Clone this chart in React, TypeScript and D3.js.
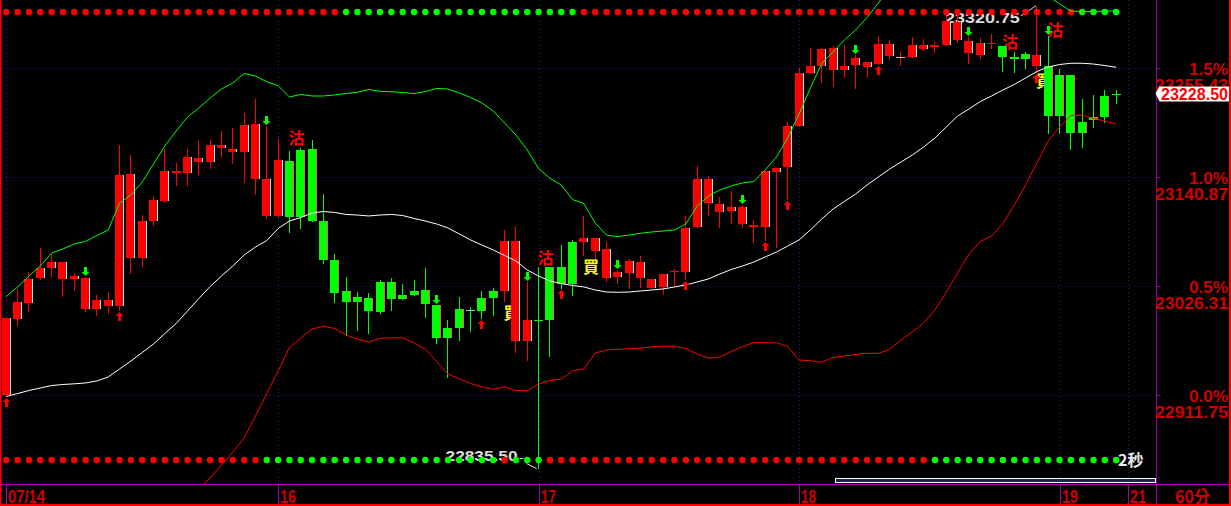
import React, { useEffect } from 'react';
import * as d3 from 'd3';

const W = 1231;
const H = 506;
const BASE = 22911.75;

const open = [22911.75,22991.75,23008.5,23034.75,23045.25,23051.5,23033.75,23034.75,23002.25,23011.5,
23005.25,23144,23055.75,23094.5,23115.75,23147.25,23145,23160.75,23156.75,23174.5,
23170.25,23167,23196.5,23138.75,23100,23157.75,23098.75,23170.25,23094.5,23053.75,
23021,23009.5,23013.75,22999,23030.5,23012.75,23016.75,23022,23006.25,22971.75,
22982.25,23001.5,23000,23013.75,23021,23073.5,22968.5,22990.5,22990.5,23046.25,
23028.5,23072.5,23076.75,23065.25,23035.75,23040,23051.5,23033.75,23025.25,23041,
23041,23088.25,23138.75,23112.5,23105.25,23109.25,23088.25,23088.25,23146,23151.5,
23194.5,23250.25,23257.5,23276.5,23253.25,23258.5,23261.75,23259.75,23280.75,23267.5,
23267,23279.5,23277.5,23279.5,23303.75,23283.75,23269,23280.75,23278.5,23267,
23265,23269,23257.5,23205,23248,23187,23200.75,23204,23228];

const high = [22992.75,23023.25,23041,23066.25,23060,23051.5,23040,23035.75,23016.75,23020,
23174.5,23164,23101,23121,23170.25,23155.5,23170.25,23179.75,23179.75,23189.25,
23192.25,23208,23222.75,23194.5,23180.75,23168.25,23171.25,23179.75,23123,23060,
23035.75,23020,23019,23032.5,23034.75,23028.5,23032.5,23045.25,23006.25,22990.5,
23014.75,23004.25,23021,23024.25,23085.25,23089.25,23030.5,23046.25,23046.25,23069.5,
23074.75,23100,23076.75,23072.5,23043.25,23054.75,23057.75,23033.75,23039,23044.25,
23100,23152.5,23142,23119.75,23126.25,23111.5,23095.75,23147.25,23150.25,23198.75,
23255.5,23276.5,23276.5,23278.5,23279.5,23269,23261.75,23289,23284.75,23272.25,
23288,23286,23282.75,23312.25,23311.25,23288,23287,23291.25,23278.5,23272.25,
23272.25,23320.75,23289,23254.5,23248,23222.75,23227,23232.25,23232.25];

const low = [22910.75,22985.25,23000,23033.75,23035.75,23015.75,23022,23000,22995.75,22998,
23001,23040,23047.25,23090.5,23114.5,23132.5,23132.5,23144,23150.25,23163,
23155.5,23135.5,23123,23097.75,23098.75,23083,23087.25,23094.5,23050.5,23009.5,
22974.75,22980,22977,22998,23001,23012.75,23016.75,22993.75,22966.5,22930.75,
22969.5,22979,22992.75,22995.75,23010.5,22957,22948.5,22835.5,22952.75,23024.25,
23016.75,23059,23055.75,23031.5,23029.5,23024.25,23025.25,23024.25,23018,23026.25,
23033.75,23088.25,23101,23088.25,23092.5,23088.25,23072.5,23074.75,23067.25,23117.75,
23194.5,23250.25,23240.75,23236.5,23246,23234.5,23246,23259.75,23265,23258.5,
23267,23274.25,23272.25,23279.5,23282.75,23260.75,23266,23276.5,23252.25,23251.25,
23255.5,23251.25,23187,23187,23170.25,23172.5,23193.5,23198.75,23218.75];

const close = [22992.75,23009.5,23033.75,23045.25,23051.5,23033.75,23036.75,23002.25,23011.5,23005.25,
23143,23055.75,23094.5,23116.75,23147.25,23145,23162,23156.75,23174.5,23171.25,
23167,23195.5,23138.75,23100,23158.75,23098.75,23169.25,23094.5,23053.75,23019,
23009.5,23014.75,23000,23030.5,23012.75,23016.75,23021,23007.5,22971.75,22982.25,
23002.25,23001.5,23013.75,23021,23073.5,22968.5,22990.5,22989.5,23046.25,23028.5,
23072.5,23076.75,23063,23034.75,23041,23052.5,23034.75,23024.25,23039,23042,
23087.25,23138.75,23113.5,23104,23109.25,23091.5,23090.5,23147.25,23150.25,23194.5,
23250.25,23257.5,23275.5,23253.25,23257.5,23266,23256.5,23280.75,23268,23267.5,
23279.5,23275.5,23279.5,23304.75,23284.75,23271.25,23281.75,23281.75,23267,23265,
23270.25,23257.5,23205,23248,23187,23198.75,23204,23226,23228.5];

const bbMid = [22910.2,22913.3,22916.5,22919.1,22921.7,22922.8,22923.5,22924.4,22926.5,22930.7,
22939.1,22947.5,22956.4,22965.4,22976.4,22986.9,23000.0,23013.2,23025.8,23036.8,
23047.3,23058.9,23067.3,23074.1,23086.7,23094.6,23098.3,23103.0,23104.6,23103.6,
23101.5,23100.9,23099.9,23100.9,23101.5,23100.4,23097.3,23094.6,23091.5,23087.3,
23081.0,23074.7,23069.4,23064.2,23058.4,23052.6,23043.1,23036.8,23031.6,23028.9,
23026.8,23025.3,23022.1,23020.0,23019.7,23020.0,23021.1,23022.1,23023.2,23025.3,
23027.4,23030.5,23033.7,23038.9,23043.6,23047.3,23051.5,23056.8,23062.0,23068.3,
23074.7,23085.2,23096.7,23107.2,23115.1,23123.0,23132.5,23140.9,23149.3,23156.6,
23164.0,23172.4,23181.9,23193.4,23205.0,23212.3,23220.2,23226.0,23232.3,23238.1,
23244.9,23251.7,23256.5,23259.1,23260.4,23260.4,23259.6,23258.0,23256.2];

const bbUpper = [23015.3,23025.3,23036.8,23047.3,23061.0,23065.2,23070.5,23073.1,23079.4,23085.2,
23113.5,23122.0,23135.6,23154.5,23173.5,23189.2,23203.9,23213.4,23223.9,23233.4,
23239.7,23249.6,23247.0,23241.0,23236.8,23225.0,23227.6,23226.0,23226.0,23227.1,
23228.6,23229.9,23232.8,23230.9,23230.5,23229.7,23228.6,23230.7,23233.9,23233.4,
23229.2,23224.4,23218.6,23210.2,23197.6,23185.0,23169.3,23149.8,23139.5,23132.5,
23117.2,23113.0,23092.5,23079.9,23078.1,23079.9,23081.7,23083.1,23084.1,23085.2,
23091.5,23110.4,23120.9,23127.2,23131.4,23134.6,23136.1,23148.2,23161.9,23181.9,
23207.1,23234.4,23260.2,23272.2,23284.9,23295.4,23308.5,23323.7,23339.0,23343.7,
23350.0,23357.4,23362.6,23366.8,23370.0,23364.7,23367.4,23373.1,23372.6,23364.7,
23357.4,23347.9,23331.1,23322.7,23315.3,23314.7,23314.8,23315.3,23315.3];

const bbLower = [22805.1,22801.4,22796.1,22790.9,22782.5,22780.4,22776.6,22775.6,22773.5,22776.2,
22764.6,22773.0,22777.2,22776.2,22779.3,22784.6,22796.1,22813.0,22824.5,22838.2,
22851.8,22866.6,22889.7,22913.3,22937.0,22961.7,22971.7,22981.1,22984.0,22981.6,
22974.8,22970.6,22967.5,22971.3,22971.7,22972.0,22966.4,22960.1,22946.7,22933.8,
22928.6,22923.8,22920.2,22917.7,22920.5,22916.5,22916.3,22923.3,22927.0,22928.6,
22937.0,22939.1,22955.9,22959.0,22959.8,22960.3,22961.1,22962.2,22963.2,22962.9,
22960.6,22954.8,22950.6,22951.7,22957.5,22962.7,22966.7,22966.7,22966.7,22962.7,
22948.5,22947.8,22946.1,22951.2,22952.7,22954.3,22955.6,22955.6,22959.6,22969.6,
22978.0,22987.4,23001.1,23020.0,23040.0,23059.9,23073.1,23078.9,23092.0,23111.4,
23132.5,23155.6,23178.7,23193.4,23205.5,23206.0,23202.4,23199.7,23196.6];

const sellSignals = [25, 47, 88, 92];
const sellLabelPrice = [23182.9, 23056.3, 23284.3, 23296.4];
const buySignals = [44, 51, 91];
const buyLabelPrice = [22999.5, 23047.3, 23242.8];
const upArrows = [0, 10, 42, 49, 60, 67, 69, 77, 91];
const downArrows = [7, 23, 38, 46, 54, 65, 75, 85, 92];
const topDotSwitches = [30, 51, 95];
const bottomDotSwitches = [23, 44, 45, 48, 82];
const dateIndex = [0, 24, 47, 70, 93, 99];
const dateLabels = ['07/14', '16', '17', '18', '19', '21'];
const dateLabelWidth = [37, 16, 15, 15, 16, 16];
const pctTicks = [0, 0.5, 1.0, 1.5];
const periodLabel = '60分';
const timerLabel = '2秒';

const RED = '#ff0000';
const GREEN = '#00ff00';
const AXIS_RED = '#d00000';
const PURPLE = '#a000a8';
const GRID = '#1a1ab0';
const NUMFONT = '"Liberation Sans", Arial, sans-serif';
const CJK = '"Noto Sans CJK TC", "Noto Sans CJK SC", sans-serif';

export default function App() {
  useEffect(() => {
    document.body.style.margin = '0';
    document.body.style.background = '#000';
  }, []);

  const n = close.length;
  const x = d3.scaleLinear().domain([0, 99]).range([6.3, 1127.5]);
  const y = d3.scaleLinear().domain([BASE, BASE * 1.015]).range([395, 68]);
  const fmt = d3.format('.2f');

  const state: boolean[] = [];
  let up = true;
  for (let i = 0; i < n; i++) {
    if (buySignals.includes(i)) up = true;
    if (sellSignals.includes(i)) up = false;
    state.push(up);
  }
  const dotUp = (sw: number[], i: number) => sw.filter((s) => s <= i).length % 2 === 0;

  const line = d3.line<number>().x((_, i) => x(i)).y((v) => y(v));

  const hiIdx = d3.maxIndex(high);
  const loIdx = d3.minIndex(low);
  const hx = x(hiIdx), hy = y(high[hiIdx]);
  const lx = x(loIdx), ly = y(low[loIdx]);
  const last = close[n - 1];
  const lastY = y(last);

  const PLOT_R = 1156.5;
  const PLOT_B = 484.5;

  const cx = (i: number) => Math.round(x(i) - 4.5) + 4.5;

  return (
    <svg width={W} height={H} style={{ position: 'absolute', left: 0, top: 0, display: 'block', background: '#000' }}>
      <defs>
        <clipPath id="plot">
          <rect x={2} y={0} width={PLOT_R - 2} height={PLOT_B} />
        </clipPath>
      </defs>
      <rect x={0} y={0} width={W} height={H} fill="#000" />

      {pctTicks.map((p) => (
        <line key={'h' + p} x1={2} x2={PLOT_R} y1={Math.round(y(BASE * (1 + p / 100))) + 0.5} y2={Math.round(y(BASE * (1 + p / 100))) + 0.5}
          stroke={GRID} strokeWidth={1} strokeDasharray="1 3" />
      ))}
      {dateIndex.map((d) => (
        <line key={'v' + d} x1={Math.round(x(d)) + 0.5} x2={Math.round(x(d)) + 0.5} y1={0} y2={PLOT_B}
          stroke={GRID} strokeWidth={1} strokeDasharray="1 3" />
      ))}

      <text x={hx - 17} y={hy + 17} textAnchor="end" fill="#dcdcdc" fontFamily={NUMFONT} fontWeight="bold" fontSize={15}
        textLength={75} lengthAdjust="spacingAndGlyphs">{fmt(high[hiIdx])}</text>
      <line x1={hx - 16} y1={hy + 10} x2={hx - 1} y2={hy} stroke="#dcdcdc" strokeWidth={1} />
      <text x={lx - 21} y={ly - 7} textAnchor="end" fill="#dcdcdc" fontFamily={NUMFONT} fontWeight="bold" fontSize={15}
        textLength={72} lengthAdjust="spacingAndGlyphs">{fmt(low[loIdx])}</text>
      <line x1={lx - 19} y1={ly - 9} x2={lx - 15} y2={ly - 9} stroke="#dcdcdc" strokeWidth={1} />
      <line x1={lx - 12} y1={ly - 4} x2={lx - 2} y2={ly + 1} stroke="#dcdcdc" strokeWidth={1} />

      {close.map((_, i) => (
        <circle key={'td' + i} cx={x(i)} cy={12} r={3.2} fill={dotUp(topDotSwitches, i) ? RED : GREEN} />
      ))}
      {close.map((_, i) => (
        <circle key={'bd' + i} cx={x(i)} cy={460} r={3.2} fill={dotUp(bottomDotSwitches, i) ? RED : GREEN} />
      ))}

      <g clipPath="url(#plot)">
        {sellSignals.map((s, k) => (
          <text key={'s' + s} x={x(s) - 1} y={y(sellLabelPrice[k])} dominantBaseline="central" fill={RED}
            fontFamily={CJK} fontWeight="bold" fontSize={16}>沽</text>
        ))}
        {buySignals.map((s, k) => (
          <text key={'b' + s} x={x(s) - 1} y={y(buyLabelPrice[k])} dominantBaseline="central" fill="#ffff00"
            fontFamily={CJK} fontWeight="bold" fontSize={16}>買</text>
        ))}

        <g shapeRendering="crispEdges">
          {close.map((c, i) => {
            const o = open[i];
            const x0 = Math.round(x(i) - 4.5);
            const col = state[i] ? RED : GREEN;
            const edge = state[i] ? '#8ff4f4' : '#ff5a5a';
            const yTop = Math.round(y(Math.max(o, c)));
            const yBot = Math.round(y(Math.min(o, c)));
            const hgt = Math.max(1, yBot - yTop);
            const doji = o === c;
            return (
              <g key={'c' + i}>
                <line x1={x0 + 4.5} x2={x0 + 4.5} y1={Math.round(y(high[i]))} y2={Math.round(y(low[i])) + 1} stroke={col} strokeWidth={1} />
                {doji ? (
                  <rect x={x0} y={yTop} width={9} height={1} fill="#6fe0e0" />
                ) : (
                  <>
                    <rect x={x0} y={yTop} width={9} height={hgt} fill={col} />
                    {hgt > 2 && <rect x={x0 + 8} y={yTop} width={1} height={hgt} fill={edge} />}
                  </>
                )}
              </g>
            );
          })}
        </g>

        <path d={line(bbLower) || ''} fill="none" stroke={RED} strokeWidth={1} />
        <path d={line(bbUpper) || ''} fill="none" stroke={GREEN} strokeWidth={1} />
        <path d={line(bbMid) || ''} fill="none" stroke="#ffffff" strokeWidth={1} />

        {upArrows.map((i) => {
          const c = cx(i);
          const t = Math.round(y(low[i])) + 2;
          return (
            <path key={'ua' + i} fill={RED}
              d={`M${c},${t} L${c + 4},${t + 4} L${c + 1.5},${t + 4} L${c + 1.5},${t + 9} L${c - 1.5},${t + 9} L${c - 1.5},${t + 4} L${c - 4},${t + 4} Z`} />
          );
        })}
        {downArrows.map((i) => {
          const c = cx(i);
          const b = Math.round(y(high[i])) - 1;
          return (
            <path key={'da' + i} fill={GREEN}
              d={`M${c},${b} L${c + 4},${b - 4} L${c + 1.5},${b - 4} L${c + 1.5},${b - 9} L${c - 1.5},${b - 9} L${c - 1.5},${b - 4} L${c - 4},${b - 4} Z`} />
          );
        })}
      </g>

      <text x={1118} y={466} fill="#ececec" fontFamily={CJK} fontWeight="bold" fontSize={16}>{timerLabel}</text>

      <rect x={835.5} y={478.5} width={320} height={4} fill="#14285a" stroke="#ffffff" strokeWidth={1} />

      <line x1={0} x2={W - 2} y1={484.5} y2={484.5} stroke={PURPLE} strokeWidth={1} />
      <line x1={PLOT_R} x2={PLOT_R} y1={0} y2={505} stroke={PURPLE} strokeWidth={1} />
      <rect x={0} y={0} width={1.5} height={H} fill={RED} />
      <rect x={1229} y={0} width={2} height={H} fill={RED} />
      <rect x={0} y={504} width={W} height={2} fill={RED} />

      {pctTicks.map((p) => {
        const v = BASE * (1 + p / 100);
        const ty = y(v);
        return (
          <g key={'ax' + p}>
            <line x1={PLOT_R} x2={PLOT_R + 4} y1={Math.round(ty) + 0.5} y2={Math.round(ty) + 0.5} stroke={PURPLE} />
            <text x={1228} y={ty + 6.5} textAnchor="end" fill={AXIS_RED} fontFamily={NUMFONT} fontWeight="bold" fontSize={16}
              textLength={39} lengthAdjust="spacingAndGlyphs">{p.toFixed(1) + '%'}</text>
            <text x={1228} y={ty + 23} textAnchor="end" fill={AXIS_RED} fontFamily={NUMFONT} fontWeight="bold" fontSize={16}
              textLength={73} lengthAdjust="spacingAndGlyphs">{fmt(v)}</text>
          </g>
        );
      })}

      <path d={`M${PLOT_R - 1},${lastY} L${PLOT_R + 3},${lastY - 7} L1229,${lastY - 7} L1229,${lastY + 8} L${PLOT_R + 3},${lastY + 8} Z`} fill="#ffffff" />
      <text x={1228} y={lastY + 6.5} textAnchor="end" fill={RED} fontFamily={NUMFONT} fontWeight="bold" fontSize={16}
        textLength={67} lengthAdjust="spacingAndGlyphs">{fmt(last)}</text>

      {dateIndex.map((d, k) => (
        <g key={'dt' + d}>
          <line x1={Math.round(x(d)) + 0.5} x2={Math.round(x(d)) + 0.5} y1={485} y2={504} stroke={PURPLE} />
          <text x={Math.round(x(d)) + 2} y={502.5} fill={AXIS_RED} fontFamily={NUMFONT} fontWeight="bold" fontSize={18}
            textLength={dateLabelWidth[k]} lengthAdjust="spacingAndGlyphs">{dateLabels[k]}</text>
        </g>
      ))}
      <text x={1175} y={502.5} fill={AXIS_RED} fontFamily={CJK} fontWeight="bold" fontSize={17}
        textLength={35} lengthAdjust="spacingAndGlyphs">{periodLabel}</text>
    </svg>
  );
}
